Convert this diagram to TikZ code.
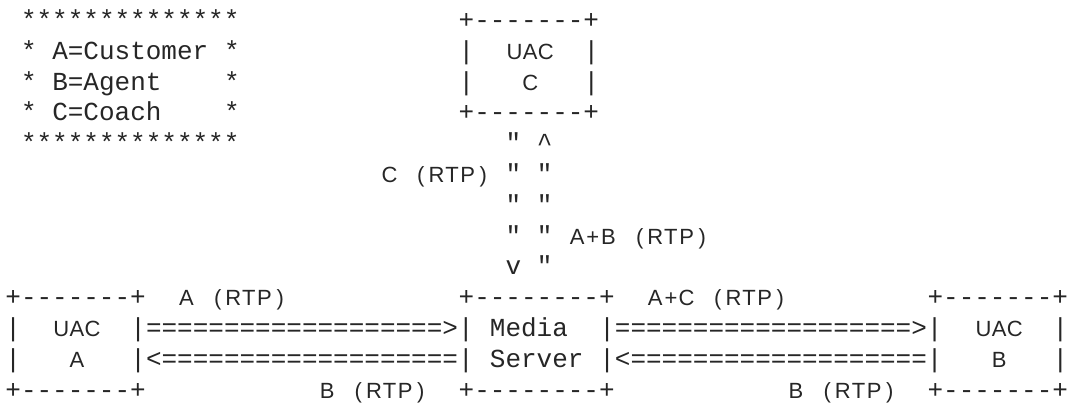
\documentclass[tikz,border=0pt]{standalone}
\usepackage{fontspec}
\newfontfamily\monof{Liberation Mono}
\newfontfamily\sansf{Liberation Sans}
% mono string: left edge of column #2, baseline of row #3
\newcommand\txt[5]{\node[#4] (#1) at ({5.2+15.63*#2},{28.5+30.8*(#3-1)}) {#5};}
% sans label: each character centred in its own column cell
\newcommand\lab[4]{%
  \foreach \ch/\c [count=\k] in {#4}{%
    \node[lbl] (#1-\k) at ({13+15.63*(#2+\c)+1.5},{28.5+30.8*(#3-1)}) {\ch};}}
\tikzset{
  mono/.style={font=\monof\fontsize{26}{26}\selectfont, anchor=base west, inner sep=0pt, text=black!85},
  lbl/.style={font=\sansf\fontsize{22}{22}\selectfont, anchor=base, inner sep=0pt, text=black!85},
}
\begin{document}
\begin{tikzpicture}[x=1pt,y=-1pt]
\fill[white] (0,0) rectangle (1072,409);
\useasboundingbox (0,0) rectangle (1072,409);
% legend
\txt{l1}{1}{1}{mono}{**************}
\txt{l2a}{1}{2}{mono}{*}
\txt{l2b}{3}{2}{mono}{A=Customer}
\txt{l2c}{14}{2}{mono}{*}
\txt{l3a}{1}{3}{mono}{*}
\txt{l3b}{3}{3}{mono}{B=Agent}
\txt{l3c}{14}{3}{mono}{*}
\txt{l4a}{1}{4}{mono}{*}
\txt{l4b}{3}{4}{mono}{C=Coach}
\txt{l4c}{14}{4}{mono}{*}
\txt{l5}{1}{5}{mono}{**************}
% UAC C box
\txt{c1}{29}{1}{mono}{+-------+}
\txt{c2a}{29}{2}{mono}{|}
\lab{c2b}{32}{2}{U/0,A/1,C/2}
\txt{c2c}{37}{2}{mono}{|}
\txt{c3a}{29}{3}{mono}{|}
\lab{c3b}{33}{3}{C/0}
\txt{c3c}{37}{3}{mono}{|}
\txt{c4}{29}{4}{mono}{+-------+}
% vertical stream
\txt{v5a}{32}{5}{mono}{"}
\txt{v5b}{34}{5}{mono}{\textasciicircum}
\lab{v6l}{24}{6}{C/0,{(}/2,R/3,T/4,P/5,{)}/6}
\txt{v6a}{32}{6}{mono}{"}
\txt{v6b}{34}{6}{mono}{"}
\txt{v7a}{32}{7}{mono}{"}
\txt{v7b}{34}{7}{mono}{"}
\txt{v8a}{32}{8}{mono}{"}
\txt{v8b}{34}{8}{mono}{"}
\lab{v8l}{36}{8}{A/0,+/1,B/2,{(}/4,R/5,T/6,P/7,{)}/8}
\txt{v9a}{32}{9}{mono}{v}
\txt{v9b}{34}{9}{mono}{"}
% bottom boxes
\txt{b10a}{0}{10}{mono}{+-------+}
\lab{b10b}{11}{10}{A/0,{(}/2,R/3,T/4,P/5,{)}/6}
\txt{b10c}{29}{10}{mono}{+--------+}
\lab{b10d}{41}{10}{A/0,+/1,C/2,{(}/4,R/5,T/6,P/7,{)}/8}
\txt{b10e}{59}{10}{mono}{+-------+}
\txt{b11a}{0}{11}{mono}{|}
\lab{b11b}{3}{11}{U/0,A/1,C/2}
\txt{b11c}{8}{11}{mono}{|===================>|}
\txt{b11d}{31}{11}{mono}{Media}
\txt{b11e}{38}{11}{mono}{|===================>|}
\lab{b11f}{62}{11}{U/0,A/1,C/2}
\txt{b11g}{67}{11}{mono}{|}
\txt{b12a}{0}{12}{mono}{|}
\lab{b12b}{4}{12}{A/0}
\txt{b12c}{8}{12}{mono}{|<===================|}
\txt{b12d}{31}{12}{mono}{Server}
\txt{b12e}{38}{12}{mono}{|<===================|}
\lab{b12f}{63}{12}{B/0}
\txt{b12g}{67}{12}{mono}{|}
\txt{b13a}{0}{13}{mono}{+-------+}
\lab{b13b}{20}{13}{B/0,{(}/2,R/3,T/4,P/5,{)}/6}
\txt{b13c}{29}{13}{mono}{+--------+}
\lab{b13d}{50}{13}{B/0,{(}/2,R/3,T/4,P/5,{)}/6}
\txt{b13e}{59}{13}{mono}{+-------+}
\end{tikzpicture}
\end{document}
